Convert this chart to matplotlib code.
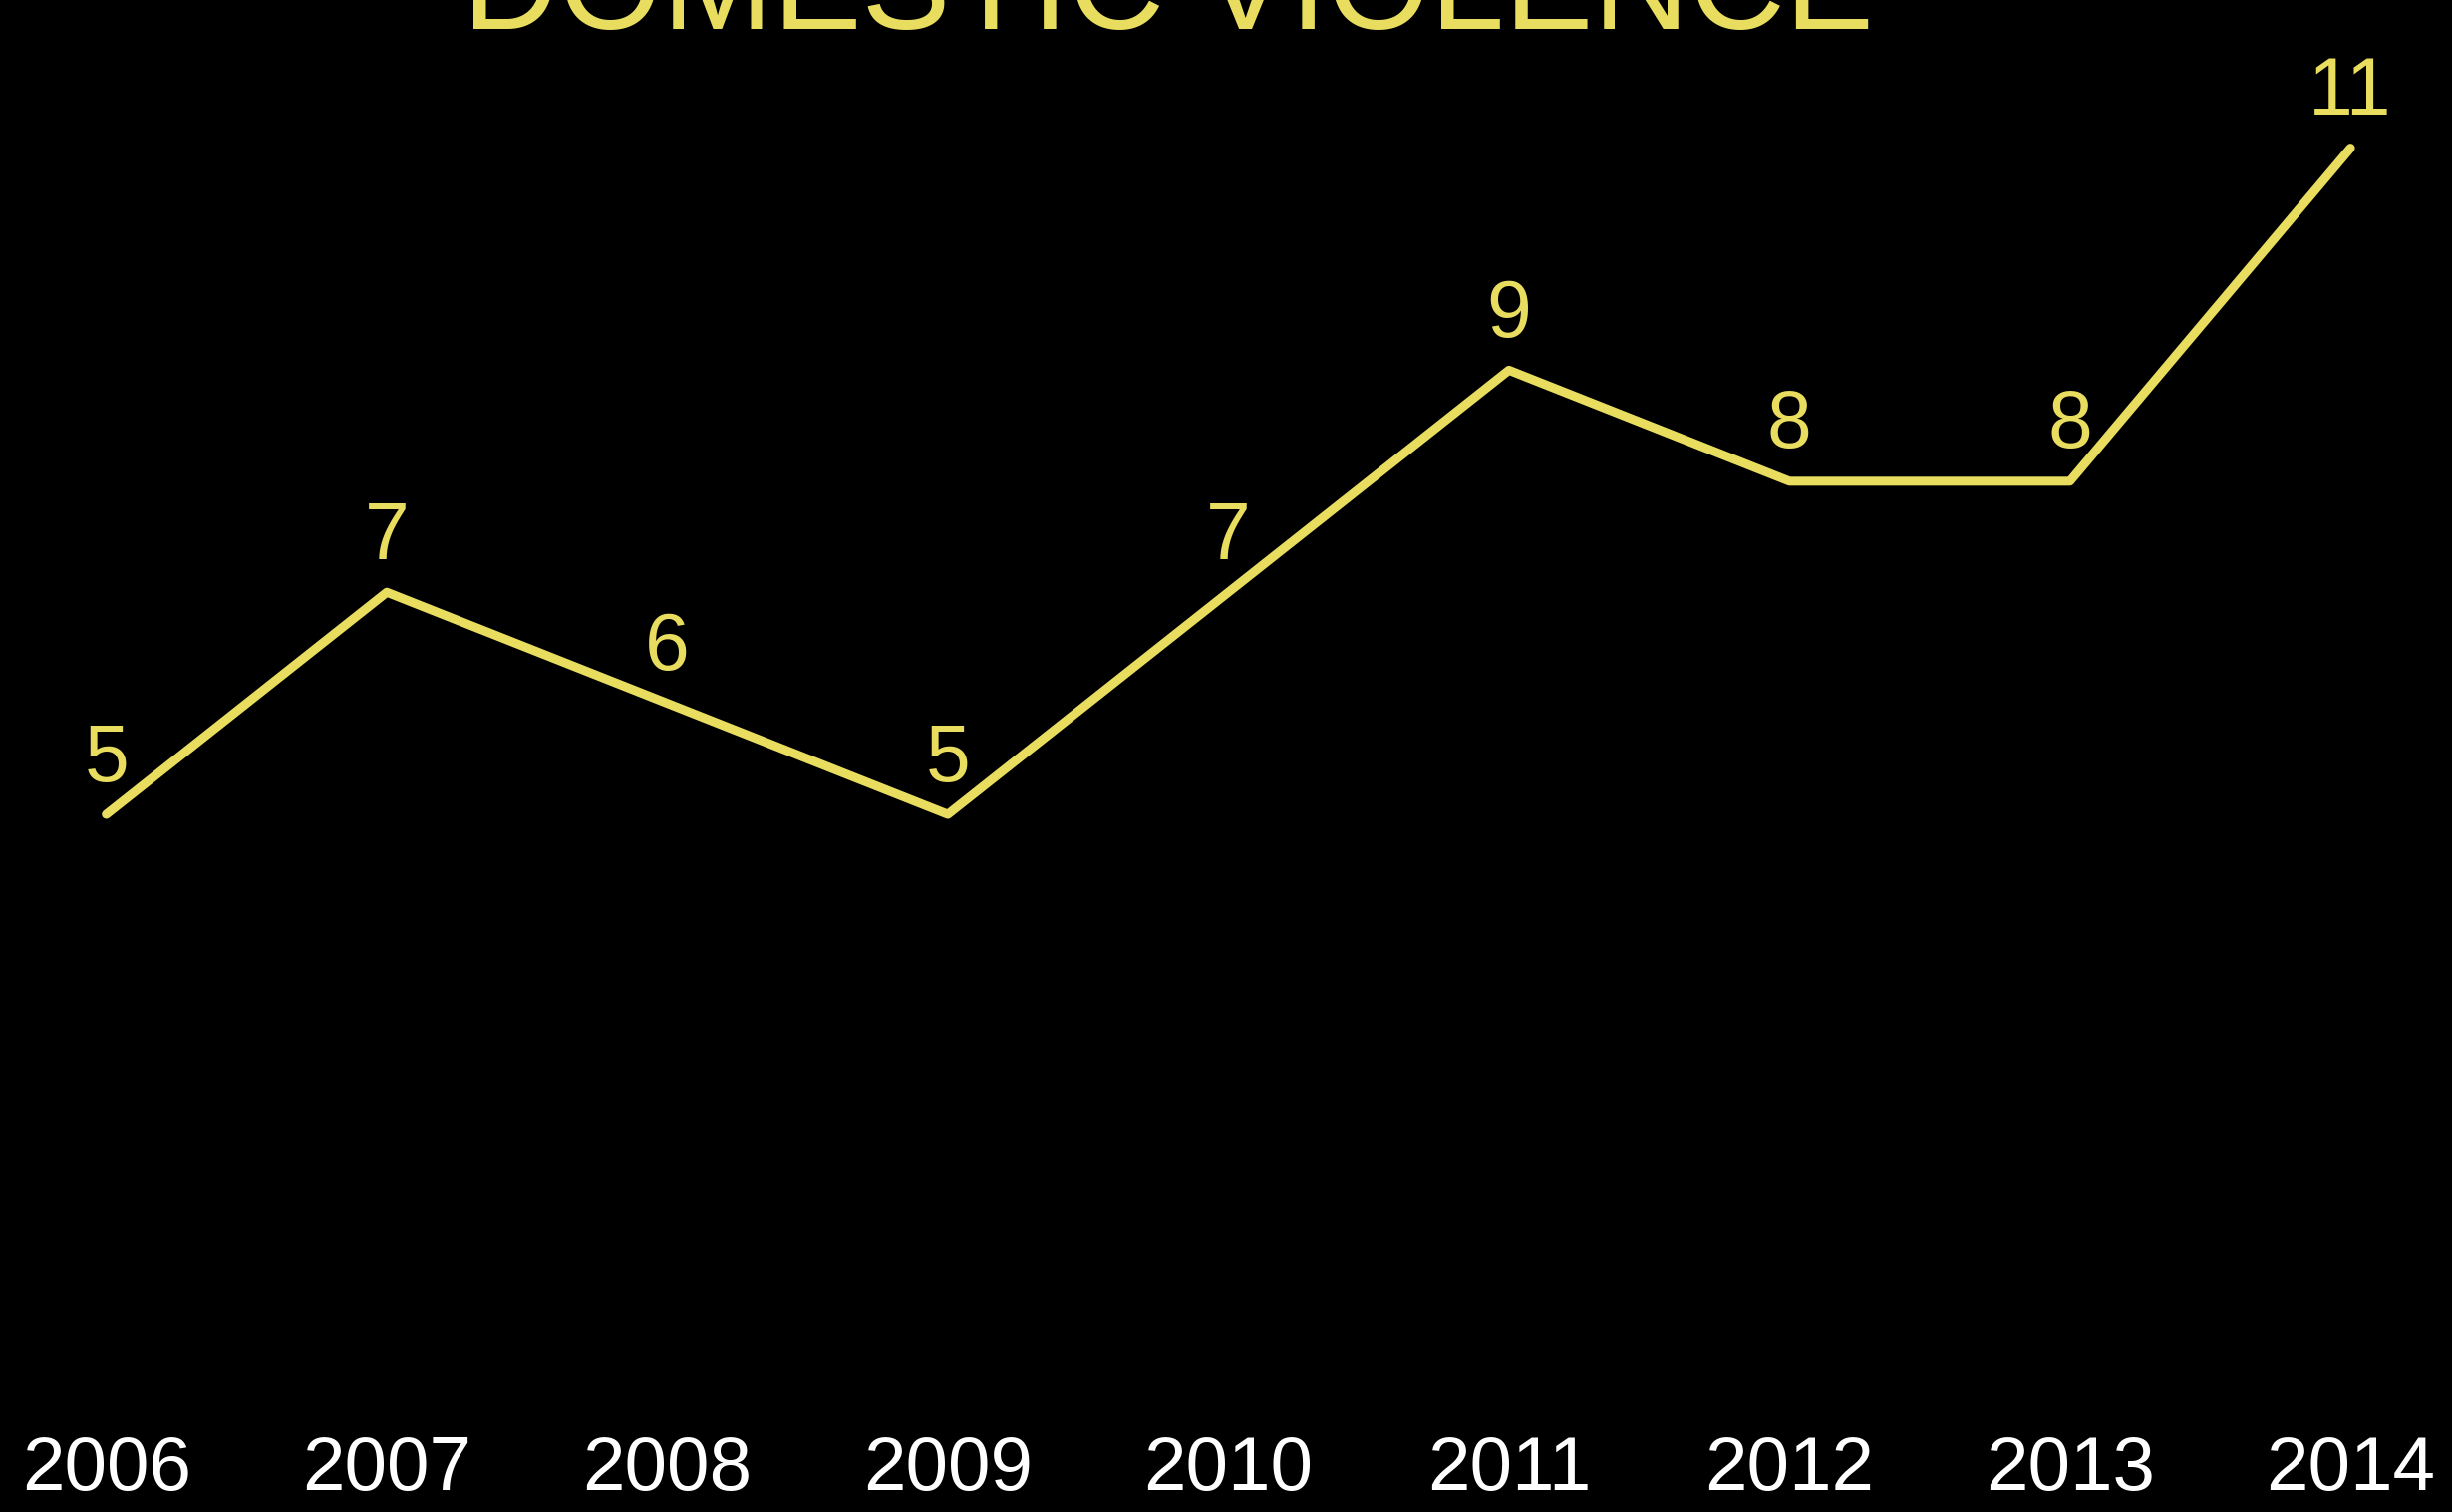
import matplotlib
matplotlib.use("Agg")
from matplotlib import pyplot as plt

years = ["2006", "2007", "2008", "2009", "2010",
         "2011", "2012", "2013", "2014"]
cases = [5, 7, 6, 5, 7, 9, 8, 8, 11]
title = "DOMESTIC VIOLENCE"

yellow = "#e8dd5f"
sans = ["Liberation Sans", "DejaVu Sans"]

fig = plt.figure(figsize=(24.6, 15.17), dpi=100, facecolor="black")
ax = fig.add_axes([0, 0.0639, 1, 0.9361])
ax.set_facecolor("black")

x = list(range(len(years)))
ax.plot(x, cases, color=yellow, linewidth=6.5,
        solid_capstyle="round", solid_joinstyle="round")

for xi, v in zip(x, cases):
    ax.annotate(str(v), (xi, v), xytext=(0, 24), textcoords="offset points",
                ha="center", va="baseline", color=yellow, fontsize=58,
                family=sans)

ax.set_xlim(-0.379, 8.362)
ax.set_ylim(-0.413, 12.334)
ax.set_xticks(x)
ax.set_xticklabels(years, color="white", fontsize=55, family=sans)
ax.tick_params(axis="x", length=0, pad=14)
ax.set_yticks([])
for s in ax.spines.values():
    s.set_visible(False)

fig.text(0.4764, 1 - 29 / 1517, title, ha="center", va="baseline",
         color=yellow, fontsize=96, family=sans)

fig.savefig("out.png", dpi=100, facecolor="black")
